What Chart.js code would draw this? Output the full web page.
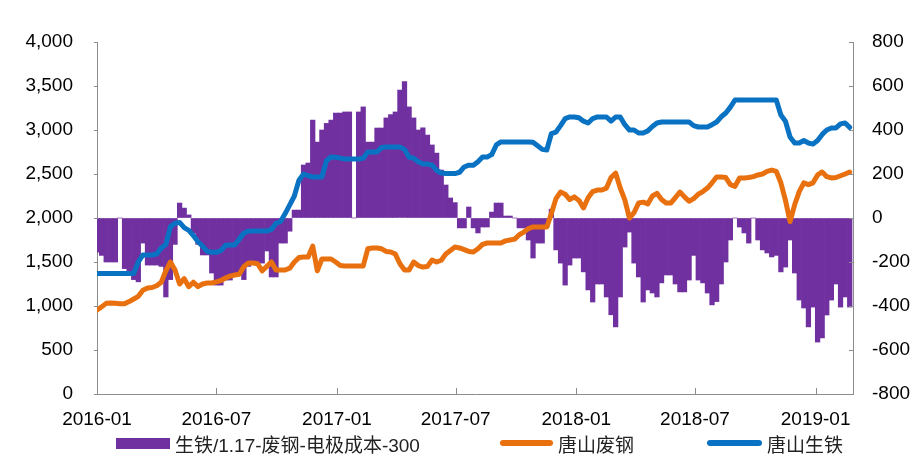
<!DOCTYPE html>
<html>
<head>
<meta charset="utf-8">
<script src="https://cdn.jsdelivr.net/npm/chart.js@4.4.1/dist/chart.umd.min.js"></script>
<style>
    body { margin: 0; background: #fff; }
    #wrap { position: relative; width: 920px; height: 456px; }
    #legend .item {
        position: absolute; top: 432px; height: 22px;
        display: flex; align-items: center; white-space: nowrap;
        font: 19px "Liberation Sans", "Noto Sans CJK SC", sans-serif; color: #222;
    }
    #legend .sw { display: inline-block; margin-right: 5px; }
</style>
</head>
<body>
<div id="wrap">
    <canvas id="chart" width="920" height="456"></canvas>
    <div id="legend"></div>
</div>
<script>
const startDate = '2016-01-01';
const weekCount = 165;

const tickDates = ['2016-01-01', '2016-07-01', '2017-01-01', '2017-07-01', '2018-01-01', '2018-07-01', '2019-01-01'];
const tickLabels = ['2016-01', '2016-07', '2017-01', '2017-07', '2018-01', '2018-07', '2019-01'];
const lastDate = '2019-02-27';

const seriesNames = ['生铁/1.17-废钢-电极成本-300', '唐山废钢', '唐山生铁'];

// 生铁/1.17-废钢-电极成本-300 (right axis)
const spread = [
    -155, -170, -200, -200, -200, 0, -230, -260, -280, -290,
    -114, -214, -214, -214, -220, -359, -280, -120, 68, 45,
    14, -68, -120, -168, -168, -250, -305, -305, -282, -282,
    -259, -259, -280, -220, -205, -205, -205, -150, -268, -268,
    -114, -114, -60, 36, 36, 241, 250, 445, 345, 400,
    430, 445, 477, 477, 482, 482, 0, 482, 505, 345,
    345, 409, 409, 455, 470, 482, 582, 620, 505, 455,
    400, 410, 377, 332, 295, 218, 150, 91, 70, -45,
    -45, 50, -45, -68, -41, -41, 27, 68, 68, 9,
    9, 0, -45, -45, -100, -182, -114, -114, -41, 40,
    -145, -205, -305, -214, -182, -182, -245, -327, -382, -300,
    -300, -359, -440, -495, -359, -132, -64, -205, -268, -382,
    -327, -341, -359, -295, -259, -259, -300, -336, -336, -282,
    -170, -282, -295, -341, -395, -380, -300, -200, -100, 0,
    -41, -68, -114, 0, -100, -145, -159, -177, -170, -245,
    -223, -100, -250, -373, -409, -495, -405, -564, -545, -441,
    -373, -300, -405, -359, -405
];

// 唐山废钢 (left axis)
const scrap = [
    955, 990, 1030, 1034, 1030, 1025, 1025, 1050, 1080, 1110,
    1180, 1205, 1210, 1230, 1270, 1400, 1500, 1409, 1250, 1310,
    1220, 1270, 1220, 1250, 1261, 1261, 1275, 1290, 1318, 1340,
    1352, 1360, 1450, 1489, 1489, 1480, 1400, 1450, 1500, 1409,
    1409, 1409, 1430, 1500, 1550, 1557, 1557, 1680, 1400, 1534,
    1534, 1534, 1500, 1460, 1455, 1455, 1455, 1455, 1455, 1650,
    1659, 1659, 1650, 1620, 1614, 1590, 1480, 1409, 1409, 1500,
    1460, 1443, 1450, 1523, 1500, 1520, 1590, 1630, 1670, 1660,
    1640, 1620, 1614, 1650, 1700, 1716, 1716, 1716, 1716, 1740,
    1750, 1760, 1810, 1840, 1880, 1898, 1898, 1898, 1898, 2050,
    2220, 2295, 2270, 2210, 2240, 2200, 2114, 2230, 2300, 2318,
    2318, 2340, 2460, 2511, 2341, 2205, 2000, 2060, 2170, 2180,
    2160, 2250, 2280, 2210, 2170, 2170, 2230, 2295, 2240, 2190,
    2220, 2270, 2300, 2340, 2400, 2466, 2466, 2460, 2380, 2360,
    2455, 2455, 2460, 2470, 2489, 2500, 2530, 2545, 2530, 2400,
    2200, 1960, 2150, 2300, 2400, 2380, 2400, 2490, 2523, 2470,
    2455, 2460, 2480, 2500, 2523
];

// 唐山生铁 (left axis)
const iron = [
    1370, 1370, 1370, 1370, 1370, 1370, 1370, 1370, 1370,
    1500, 1580, 1580, 1580, 1590, 1660, 1700, 1900, 1940, 1950,
    1890, 1860, 1800, 1730, 1680, 1620, 1610, 1610, 1630, 1690,
    1693, 1693, 1760, 1830, 1850, 1852, 1852, 1852, 1852, 1870,
    1940, 1960, 2050, 2150, 2250, 2430, 2500, 2480, 2466, 2466,
    2466, 2650, 2693, 2690, 2680, 2670, 2670, 2670, 2670, 2680,
    2750, 2750, 2750, 2800, 2807, 2807, 2807, 2807, 2780, 2690,
    2680, 2640, 2614, 2614, 2600, 2540, 2511, 2505, 2505, 2505,
    2520, 2580, 2600, 2600, 2640, 2693, 2693, 2720, 2830, 2864,
    2864, 2864, 2864, 2864, 2864, 2864, 2860, 2820, 2780, 2773,
    2960, 2977, 3050, 3130, 3148, 3148, 3140, 3100, 3080, 3130,
    3148, 3148, 3148, 3100, 3148, 3148, 3060, 3000, 3000, 2966,
    2966, 2990, 3040, 3080, 3091, 3091, 3091, 3091, 3091, 3091,
    3091, 3050, 3034, 3034, 3034, 3060, 3091, 3150, 3193, 3260,
    3341, 3341, 3341, 3341, 3341, 3341, 3341, 3341, 3341, 3341,
    3170, 3100, 2920, 2852, 2852, 2880, 2852, 2840, 2880, 2950,
    3000, 3023, 3023, 3070, 3080, 3030
];

const purple = '#7030A0';
const orange = '#E8700E';
const blue = '#0A72C2';
const axisColor = '#8c8c8c';

const DAY = 86400000;
const dayOf = s => (Date.parse(s + 'T00:00:00Z') - Date.parse(startDate + 'T00:00:00Z')) / DAY;

const days = [];
for (let w = 0; w < weekCount; w++) days.push(w * 7);

const toPoints = values => values.map((v, i) => ({x: days[i], y: v}));

const innerTicks = {
    id: 'innerTicks',
    afterDraw(chart) {
        const {ctx, chartArea: a, scales} = chart;
        ctx.save();
        ctx.strokeStyle = axisColor;
        ctx.lineWidth = 1;
        ctx.beginPath();
        scales.y.ticks.forEach(t => {
            const y = Math.round(scales.y.getPixelForValue(t.value)) + 0.5;
            ctx.moveTo(a.left - 3, y); ctx.lineTo(a.left + 1, y);
        });
        scales.y1.ticks.forEach(t => {
            const y = Math.round(scales.y1.getPixelForValue(t.value)) + 0.5;
            ctx.moveTo(a.right - 4, y); ctx.lineTo(a.right, y);
        });
        scales.x.ticks.forEach(t => {
            const x = Math.round(scales.x.getPixelForValue(t.value)) + 0.5;
            ctx.moveTo(x, a.bottom); ctx.lineTo(x, a.bottom - 6);
        });
        ctx.stroke();
        ctx.restore();
    }
};

Chart.defaults.font.family = '"Liberation Sans", Arial, sans-serif';
Chart.defaults.font.size = 19;
Chart.defaults.color = '#000';

new Chart(document.getElementById('chart'), {
    type: 'bar',
    data: {
        datasets: [
            {
                type: 'line', label: seriesNames[2], data: toPoints(iron), yAxisID: 'y',
                borderColor: blue, borderWidth: 5, pointRadius: 0, tension: 0,
                borderCapStyle: 'round', borderJoinStyle: 'round', order: 1
            },
            {
                type: 'line', label: seriesNames[1], data: toPoints(scrap), yAxisID: 'y',
                borderColor: orange, borderWidth: 5, pointRadius: 0, tension: 0,
                borderCapStyle: 'round', borderJoinStyle: 'round', order: 2
            },
            {
                type: 'bar', label: seriesNames[0], data: toPoints(spread), yAxisID: 'y1',
                backgroundColor: purple, borderWidth: 0,
                barPercentage: 1, categoryPercentage: 1, order: 3
            }
        ]
    },
    options: {
        responsive: false,
        animation: false,
        layout: {padding: {top: 42, left: 0, right: 0, bottom: 0}},
        plugins: {legend: {display: false}, tooltip: {enabled: false}},
        scales: {
            x: {
                type: 'linear', min: 0, max: dayOf(lastDate), offset: false,
                grid: {drawOnChartArea: false, drawTicks: false, offset: false},
                border: {color: axisColor},
                afterBuildTicks: scale => { scale.ticks = tickDates.map(d => ({value: dayOf(d)})); },
                ticks: {padding: 14, autoSkip: false, maxRotation: 0, callback: (v, i) => tickLabels[i]},
                afterFit: scale => { scale.height = 62; }
            },
            y: {
                position: 'left', min: 0, max: 4000,
                grid: {drawOnChartArea: false, drawTicks: false},
                border: {color: axisColor},
                ticks: {stepSize: 500, padding: 24, callback: v => v.toLocaleString('en-US')},
                afterFit: scale => { scale.width = 97; }
            },
            y1: {
                position: 'right', min: -800, max: 800,
                grid: {drawOnChartArea: false, drawTicks: false},
                border: {color: axisColor},
                ticks: {stepSize: 200, padding: 19},
                afterFit: scale => { scale.width = 67; }
            }
        }
    },
    plugins: [innerTicks]
});

const legendItems = [
    {name: seriesNames[0], color: purple, left: 116, w: 54, h: 11, radius: 0},
    {name: seriesNames[1], color: orange, left: 500, w: 53, h: 6, radius: 3},
    {name: seriesNames[2], color: blue, left: 707, w: 55, h: 6, radius: 3}
];
const legend = document.getElementById('legend');
legendItems.forEach(item => {
    const div = document.createElement('div');
    div.className = 'item';
    div.style.left = item.left + 'px';
    div.innerHTML = `<span class="sw" style="width:${item.w}px;height:${item.h}px;background:${item.color};border-radius:${item.radius}px"></span><span>${item.name}</span>`;
    legend.appendChild(div);
});
</script>
</body>
</html>
